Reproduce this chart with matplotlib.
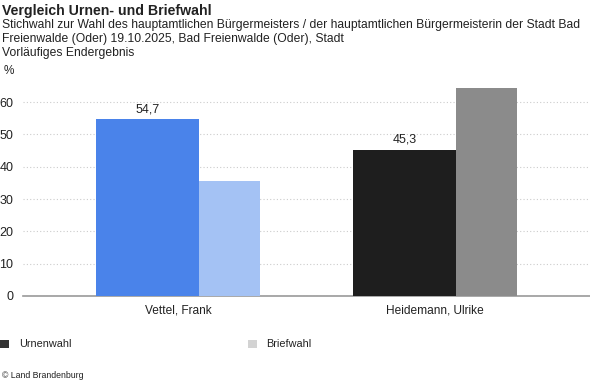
import matplotlib
matplotlib.use("Agg")
import matplotlib.pyplot as plt
from matplotlib.patches import Rectangle
import numpy as np

plt.rcParams['font.family'] = ['Liberation Sans', 'DejaVu Sans']

categories = ["Vettel, Frank", "Heidemann, Ulrike"]
urnenwahl = [54.7, 45.3]
briefwahl = [35.7, 64.4]
urnen_colors = ["#4a83ea", "#1e1e1e"]
brief_colors = ["#a4c2f4", "#8b8b8b"]
yticks = [0, 10, 20, 30, 40, 50, 60]

W, H = 590, 384
fig = plt.figure(figsize=(W / 100, H / 100), dpi=100)

ax_left, ax_right = 23, 590
ax_bottom, ax_top = 296, 82.6
ax = fig.add_axes([ax_left / W, 1 - ax_bottom / H, (ax_right - ax_left) / W, (ax_bottom - ax_top) / H])

x = np.arange(len(categories))
u_w, b_w = 0.40, 0.237
u_left = -0.319
ax.bar(x + u_left, urnenwahl, width=u_w, align='edge', color=urnen_colors, zorder=3)
ax.bar(x + u_left + u_w, briefwahl, width=b_w, align='edge', color=brief_colors, zorder=3)

for xi, v in zip(x, urnenwahl):
    ax.text(xi + u_left + u_w / 2, v + 1.2, f"{v:.1f}".replace('.', ','), ha='center', va='bottom',
            fontsize=9, color='#222222')

ax.set_xlim(-0.603, 1.603)
ax.set_ylim(0, 66)
ax.set_yticks(yticks)
ax.set_yticklabels([str(t) for t in yticks], fontsize=9, color='#222222')
ax.set_xticks(x)
ax.set_xticklabels(categories, fontsize=8.6, color='#222222')
ax.tick_params(axis='both', length=0)
ax.tick_params(axis='y', pad=7)
ax.tick_params(axis='x', pad=6)
for s in ['top', 'right', 'left']:
    ax.spines[s].set_visible(False)
ax.spines['bottom'].set_color('#999999')
ax.spines['bottom'].set_linewidth(1.2)
ax.yaxis.grid(True, linestyle=(0, (1, 2)), color='#cccccc', linewidth=0.8, zorder=0)
ax.set_axisbelow(True)

# Titles
fig.text(2 / W, 1 - 11 / H, "Vergleich Urnen- und Briefwahl", fontsize=10.2, fontweight='bold',
         color='#222222', va='center', ha='left')
sub = ["Stichwahl zur Wahl des hauptamtlichen Bürgermeisters / der hauptamtlichen Bürgermeisterin der Stadt Bad",
       "Freienwalde (Oder) 19.10.2025, Bad Freienwalde (Oder), Stadt",
       "Vorläufiges Endergebnis"]
for i, line in enumerate(sub):
    fig.text(2 / W, 1 - (25 + i * 14) / H, line, fontsize=8.7, color='#222222', va='center', ha='left')
fig.text(4 / W, 1 - 71 / H, "%", fontsize=8.5, color='#222222', va='center', ha='left')

# Legend
fig.patches.append(Rectangle((0 / W, 1 - 348 / H), 9 / W, 8 / H, transform=fig.transFigure,
                             facecolor='#333333', edgecolor='none'))
fig.text(19 / W, 1 - 344 / H, "Urnenwahl", fontsize=7.8, color='#222222', va='center', ha='left')
fig.patches.append(Rectangle((248 / W, 1 - 348 / H), 9 / W, 8 / H, transform=fig.transFigure,
                             facecolor='#d3d3d3', edgecolor='none'))
fig.text(266 / W, 1 - 344 / H, "Briefwahl", fontsize=7.8, color='#222222', va='center', ha='left')

fig.text(2 / W, 1 - 375 / H, "© Land Brandenburg", fontsize=6.3, color='#222222', va='center', ha='left')

fig.savefig("out.png", dpi=100)
